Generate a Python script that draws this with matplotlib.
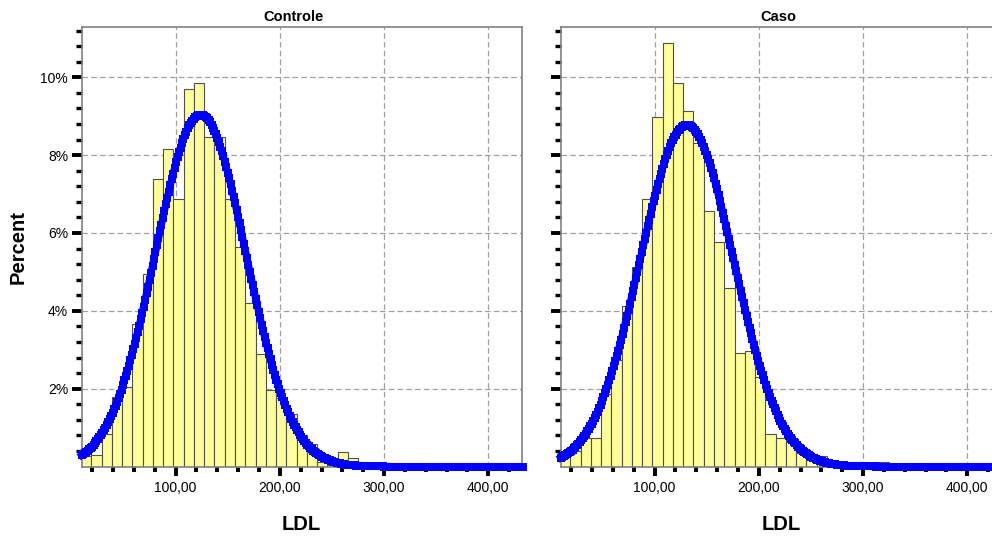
import numpy as np
import matplotlib
matplotlib.use("Agg")
import matplotlib.pyplot as plt
from matplotlib.ticker import FixedLocator, MultipleLocator, NullFormatter

plt.rcParams['font.family'] = ['Liberation Sans', 'DejaVu Sans']

# Histogram bins (LDL)
BIN_START = 9.3
BIN_WIDTH = 9.85

# Percent of observations per bin
controle_pct = [0.27, 0.30, 0.84, 1.79, 2.05, 3.65, 4.94, 7.38, 8.15, 6.87,
                9.69, 9.85, 8.47, 8.47, 6.87, 5.65, 4.21, 2.88, 1.97, 1.75,
                1.34, 0.82, 0.57, 0.13, 0.05, 0.37, 0.21]
caso_pct = [0.30, 0.41, 0.73, 0.73, 1.86, 2.74, 4.12, 5.13, 6.87, 8.97,
            10.87, 9.86, 9.13, 8.30, 6.56, 5.76, 4.58, 2.93, 2.98, 2.30,
            0.83, 0.73, 0.62, 0.35, 0.30, 0.28, 0.11, 0.11, 0.11, 0.11,
            0.00, 0.11]

# Normal curve parameters (mean, std. deviation)
controle_fit = (124.0, 43.5)
caso_fit = (131.0, 44.8)

panel_titles = ["Controle", "Caso"]
x_major = [100, 200, 300, 400]
x_labels = ["100,00", "200,00", "300,00", "400,00"]
y_major = [2, 4, 6, 8, 10]
y_labels = ["2%", "4%", "6%", "8%", "10%"]

W, H = 992, 538
fig = plt.figure(figsize=(W / 100, H / 100), dpi=100)

ax_bottom = (H - 466.6) / H
ax_height = (466.6 - 27) / H
ax_width = 440 / W
axes = [fig.add_axes([81.7 / W, ax_bottom, ax_width, ax_height]),
        fig.add_axes([560.7 / W, ax_bottom, ax_width, ax_height])]

for ax, pct, (mu, sd), show_y in zip(axes, [controle_pct, caso_pct],
                                      [controle_fit, caso_fit], [True, False]):
    edges = BIN_START + BIN_WIDTH * np.arange(len(pct))
    ax.bar(edges, pct, width=BIN_WIDTH, align='edge', color='#FFFF99',
           edgecolor='#505050', linewidth=0.8, zorder=2)

    xs = np.linspace(10, 433, 300)
    ys = 100 * BIN_WIDTH * np.exp(-0.5 * ((xs - mu) / sd) ** 2) / (sd * np.sqrt(2 * np.pi))
    ax.plot(xs, ys, color='#0000FF', lw=5.2, marker='s', ms=5.3, mew=0,
            zorder=4, clip_on=False)

    ax.set_xlim(10, 432)
    ax.set_ylim(0, 11.29)

    ax.xaxis.set_major_locator(FixedLocator(x_major))
    ax.xaxis.set_minor_locator(MultipleLocator(20))
    ax.set_xticklabels(x_labels)
    ax.yaxis.set_major_locator(FixedLocator(y_major))
    ax.yaxis.set_minor_locator(FixedLocator([i * 0.4 for i in range(1, 29)]))
    if show_y:
        ax.set_yticklabels(y_labels)
    else:
        ax.yaxis.set_major_formatter(NullFormatter())

    ax.grid(True, which='major', color='#A0A0A0', linestyle=(0, (4.5, 2.5)),
            linewidth=0.9, zorder=0)
    ax.set_axisbelow(True)

    ax.tick_params(axis='y', which='major', length=7.2, width=2.8,
                   color='black', labelsize=10, pad=2.5)
    ax.tick_params(axis='y', which='minor', length=4.3, width=2.4, color='black')
    ax.tick_params(axis='x', which='major', length=6.5, width=2.8,
                   color='black', labelsize=10, pad=4)
    ax.tick_params(axis='x', which='minor', length=3.6, width=2.8, color='black')

    for sp in ax.spines.values():
        sp.set_color('#808080')
        sp.set_linewidth(1.2)

fig.text(293 / W, 1 - 17 / H, panel_titles[0], ha='center', va='center',
         fontsize=10.5, fontweight='bold')
fig.text(778 / W, 1 - 17 / H, panel_titles[1], ha='center', va='center',
         fontsize=10.5, fontweight='bold')
fig.text(18 / W, 1 - 247 / H, "Percent", rotation=90, ha='center', va='center',
         fontsize=14.5, fontweight='bold')
fig.text(301 / W, 1 - 525 / H, "LDL", ha='center', va='center',
         fontsize=14.5, fontweight='bold')
fig.text(781 / W, 1 - 525 / H, "LDL", ha='center', va='center',
         fontsize=14.5, fontweight='bold')

fig.savefig("out.png", dpi=100)
